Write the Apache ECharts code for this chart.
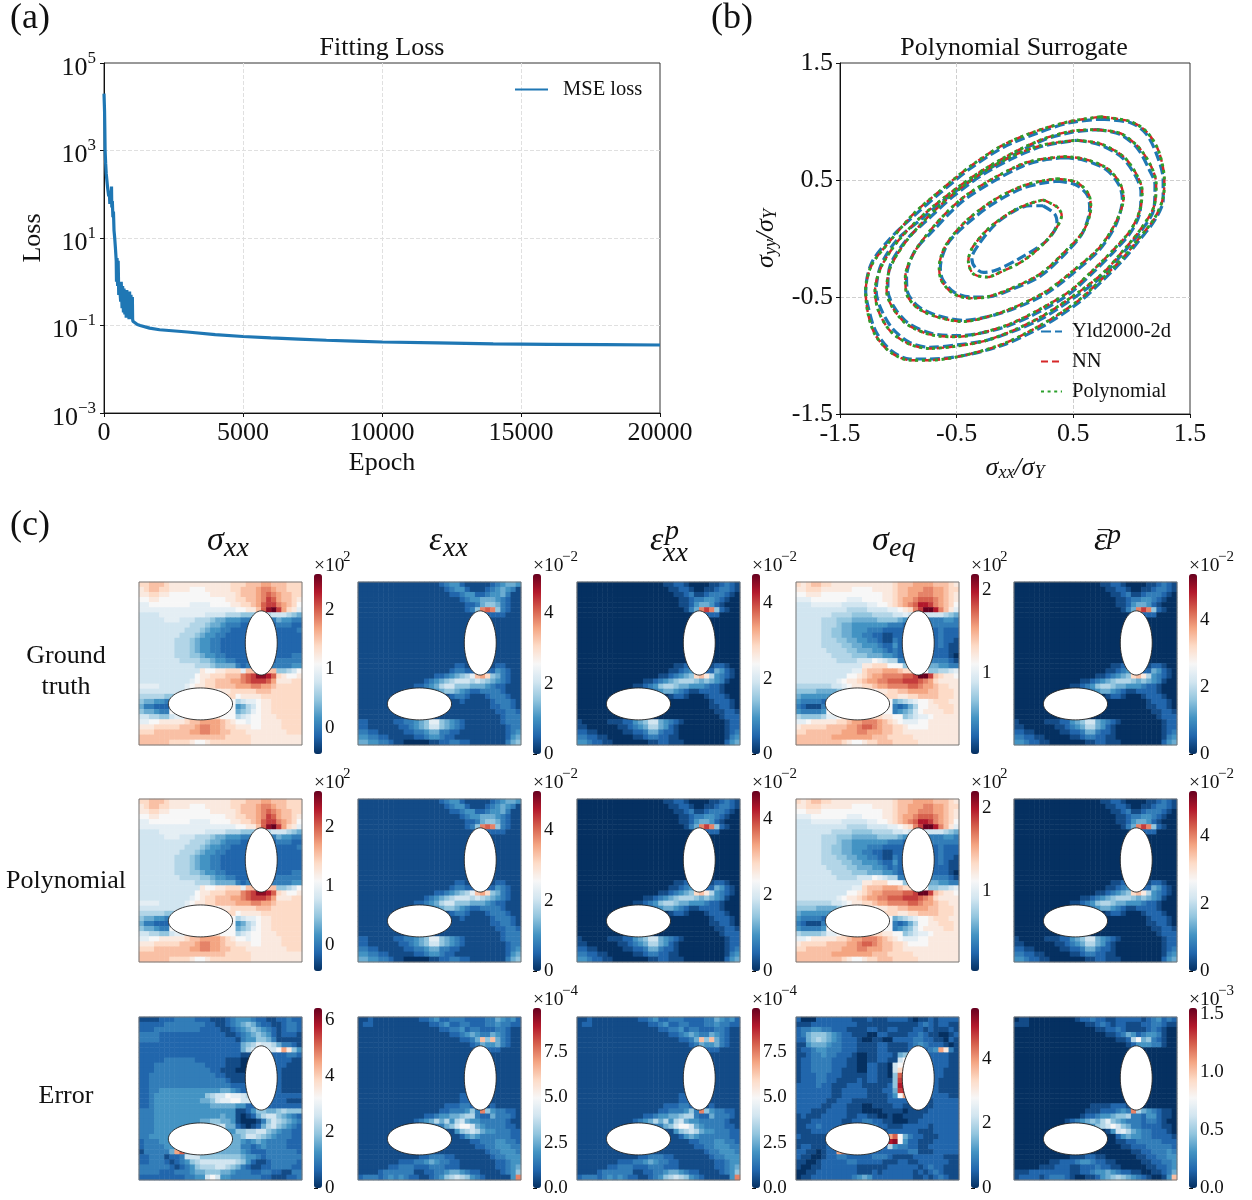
<!DOCTYPE html>
<html><head><meta charset="utf-8">
<script src="https://cdn.jsdelivr.net/npm/echarts@6/dist/echarts.min.js"></script>
<style>html,body{margin:0;padding:0;background:#fff}#c{width:1252px;height:1200px}</style>
</head><body><div id="c"></div>
<script>
// ---------- (a) Fitting loss ----------
const lossEpoch=[0,10,20,30,40,60,80,100,130,150,170,190,210,230,250,270,280,300,320,340,360,385,410,440,450,470,490,510,530,550,575,600,620,650,670,700,720,750,770,800,820,850,870,900,920,950,970,1000,1020,1030,1040,1100,1200,1300,1640,2000,3000,4000,5000,6000,7000,8000,9000,10000,12000,14000,16000,18000,20000];
const lossValue=[20000,20000,8000,3000,1000,500,300,220,140,130,90,120,60,100,60,150,50,70,30,40,15,10,6,3,1,3.5,0.8,3,0.5,1,1,0.35,1,0.25,0.8,0.2,0.7,0.18,0.45,0.15,0.65,0.18,0.5,0.14,0.6,0.15,0.5,0.14,0.45,0.14,0.125,0.115,0.105,0.1,0.087,0.08,0.071,0.062,0.056,0.052,0.049,0.046,0.044,0.042,0.04,0.038,0.0372,0.0365,0.0358];

// ---------- (b) Yield contours ----------
const surrogateC1=[[.24,.33],[.36,.27],[.40,.20],[.36,.10],[.24,-.05],[.07,-.19],[-.13,-.29],[-.24,-.33],[-.36,-.30],[-.40,-.19],[-.36,-.07],[-.21,.10],[-.01,.24],[.13,.30]];
const surrogateC2=[[.36,.51],[.53,.48],[.63,.38],[.65,.27],[.59,.07],[.44,-.10],[.22,-.30],[-.04,-.43],[-.24,-.50],[-.38,-.51],[-.53,-.47],[-.63,-.36],[-.65,-.25],[-.60,-.07],[-.44,.13],[-.21,.31],[.04,.44],[.22,.49]];
const surrogateC3=[[.42,.70],[.59,.68],[.79,.60],[.90,.47],[.93,.35],[.87,.15],[.73,-.07],[.53,-.25],[.27,-.45],[-.01,-.59],[-.24,-.67],[-.44,-.71],[-.67,-.67],[-.84,-.59],[-.93,-.47],[-.94,-.33],[-.87,-.13],[-.70,.10],[-.47,.33],[-.21,.50],[.07,.64],[.24,.68]];
const surrogateC4=[[.53,.84],[.73,.81],[.93,.70],[1.04,.55],[1.09,.41],[1.07,.24],[.99,.07],[.84,-.10],[.67,-.27],[.47,-.45],[.24,-.59],[-.04,-.73],[-.30,-.81],[-.50,-.84],[-.73,-.82],[-.93,-.73],[-1.05,-.59],[-1.10,-.45],[-1.07,-.25],[-.93,-.02],[-.75,.18],[-.53,.38],[-.27,.57],[-.01,.71],[.24,.80]];
const surrogateC5=[[.70,.93],[.90,.90],[1.06,.78],[1.17,.61],[1.21,.47],[1.19,.27],[1.07,.07],[.93,-.10],[.76,-.29],[.53,-.47],[.24,-.66],[.02,-.77],[-.24,-.87],[-.50,-.92],[-.73,-.94],[-.91,-.90],[-1.07,-.79],[-1.17,-.62],[-1.20,-.45],[-1.15,-.25],[-1.01,-.03],[-.81,.18],[-.58,.37],[-.33,.55],[-.04,.72],[.24,.85],[.50,.92]];
const surrogateC6=[[.73,1.04],[.99,1.00],[1.13,.91],[1.23,.75],[1.28,.50],[1.27,.35],[1.20,.18],[1.07,.01],[.93,-.16],[.73,-.36],[.53,-.54],[.24,-.73],[-.10,-.90],[-.44,-1.00],[-.73,-1.04],[-.90,-1.04],[-1.07,-.97],[-1.20,-.82],[-1.26,-.64],[-1.28,-.45],[-1.23,-.23],[-1.07,-.02],[-.87,.21],[-.64,.41],[-.38,.62],[-.10,.80],[.19,.92],[.47,1.00]];
const yldC1=[[.24,.28],[.34,.21],[.36,.13],[.27,-.02],[.04,-.17],[-.16,-.27],[-.27,-.29],[-.34,-.25],[-.37,-.17],[-.31,-.05],[-.16,.13],[.02,.25],[.13,.28]];
const yldC2=[[.36,.49],[.52,.46],[.62,.37],[.64,.26],[.58,.05],[.44,-.12],[.22,-.32],[-.04,-.44],[-.24,-.50],[-.38,-.50],[-.52,-.46],[-.62,-.35],[-.64,-.25],[-.58,-.05],[-.43,.11],[-.20,.29],[.04,.42],[.22,.47]];
const yldC3=[[.42,.69],[.59,.67],[.78,.59],[.89,.46],[.92,.34],[.87,.13],[.73,-.09],[.53,-.27],[.27,-.47],[-.01,-.60],[-.24,-.67],[-.44,-.70],[-.66,-.66],[-.83,-.58],[-.92,-.46],[-.93,-.33],[-.86,-.11],[-.69,.08],[-.46,.31],[-.20,.48],[.07,.62],[.24,.67]];
const yldC4=[[.53,.84],[.73,.80],[.92,.69],[1.03,.54],[1.08,.40],[1.07,.22],[.99,.05],[.84,-.12],[.67,-.29],[.47,-.47],[.24,-.61],[-.04,-.74],[-.30,-.81],[-.50,-.83],[-.72,-.81],[-.92,-.72],[-1.04,-.58],[-1.09,-.44],[-1.07,-.23],[-.93,-.01],[-.75,.16],[-.53,.36],[-.27,.55],[-.01,.69],[.24,.79]];
const yldC5=[[.70,.93],[.90,.89],[1.05,.77],[1.15,.59],[1.20,.46],[1.19,.25],[1.07,.05],[.93,-.12],[.76,-.31],[.53,-.49],[.24,-.68],[.02,-.78],[-.24,-.87],[-.50,-.91],[-.73,-.93],[-.90,-.89],[-1.05,-.77],[-1.15,-.60],[-1.19,-.45],[-1.15,-.23],[-1.01,-.01],[-.81,.16],[-.58,.35],[-.33,.53],[-.04,.70],[.24,.84],[.50,.91]];
const yldC6=[[.73,1.02],[.99,.99],[1.12,.90],[1.21,.73],[1.27,.50],[1.27,.33],[1.20,.16],[1.07,-.01],[.93,-.18],[.73,-.38],[.53,-.56],[.24,-.75],[-.10,-.91],[-.44,-1.00],[-.73,-1.03],[-.90,-1.03],[-1.06,-.96],[-1.19,-.80],[-1.25,-.62],[-1.28,-.45],[-1.23,-.21],[-1.07,0],[-.87,.19],[-.64,.39],[-.38,.60],[-.10,.78],[.19,.90],[.47,.99]];
const nnContours=[surrogateC1,surrogateC2,surrogateC3,surrogateC4,surrogateC5,surrogateC6];
const polyContours=[surrogateC1,surrogateC2,surrogateC3,surrogateC4,surrogateC5,surrogateC6];
const yldContours=[yldC1,yldC2,yldC3,yldC4,yldC5,yldC6];

// ---------- (c) Fields: one character per cell, base 36 level 0..20 along the colour scale ----------
const fieldSxx=[
"ccdddcbbbbbbbbbbbbcccdddeedddccc","bcddccbbbbaaabbbbbccdddeffeddccc","bbccbbaaaaaaaabbbbbcdddefgfeddcc","aabbaaaaaaaaaaaaabbccddefhgeddcb",
"99aaaaaaaa9999aaaabbccdeghhfedca","9999999999999999999aabbdgjkhecb9","88889999999998888777666777888765","88888999888777655444333333354433",
"88888888887776554333222222233322","88888888877765443322222222222223","88888888777654433222222222222222","88888887776544332222222222222222",
"88888887776544332222222222222222","88888887776544332222222222222222","88888887776654433222222222222233","88888888777766544332222222233333",
"88888888888777655553233333333344","888888888888baabbccc9ddeedd6678a","88888888888abbcccdddfghjjigcbaab","88888888889abccdddeefghhhgebbbcc",
"9999888889abbccddddeeeffeedccccc","888888888abaaaaabbcccccdddcccccc","7777766ccccccccccccabbbbcccccccc","655443aaaaaaaaaaaaa7899abbcccccc",
"533222aaaaaaaaaaaaa4578abbcccccc","655433aaaaaaaaaaaaa5679abbcccccc","887766899cccccccaaa789aabbbccccc","99aabbbbbcddeeeedcbaa9aabbbbcccc",
"bbbcccccdddeffeedccbbbaabbbbcccc","cccdddddddeeffeeddcccbbbbbbbbccc","dddddddddddddddddcccccbbbbbbbbbb","ddddddccccbaabccccccccbbbbbbbbbb"];
const fieldExx=[
"11111111111111112344211111234554","11111111111111111234421112345431","11111111111111111122344223445311","11111111111111111111234455543211",
"11111111111111111111122356653211","111111111111111111111236fgf63211","11111111111111111111111222222111","11111111111111111111111111111111",
"11111111111111111111111111111111","11111111111111111111111111111111","11111111111111111111111111111111","11111111111111111111111111111111",
"11111111111111111111111111111111","11111111111111111111111111111111","11111111111111111111111111111111","11111111111111111111111111111111",
"11111111111111111112211111122111","11111111111111111123322222243211","11111111111111122345679dec653211","11111111111112345678887876543211",
"11111111111223457886665554322111","11111111122222345665432233332111","11111111111111111123321112333211","11111111111111111111211111233321",
"11111111111111111111111111223321","11111111111111111111111111122332","11111111111111111111111111112333","22111112233456996543211111112333",
"22111111223456886543211111111233","33221111122334553322111111111234","44332211111223443221111111111245","55443321100000112233221111111356"];
const fieldExxP=[
"00000000000000000112210000112321","00000000000000000011221001123321","00000000000000000001123112333210","00000000000000000000112334432100",
"00000000000000000000112455421000","000000000000000000000135fhf62100","00000000000000000000000222220000","00000000000000000000000000000000",
"00000000000000000000000000000000","00000000000000000000000000000000","00000000000000000000000000000000","00000000000000000000000000000000",
"00000000000000000000000000000000","00000000000000000000000000000000","00000000000000000000000000000000","00000000000000000000000000000000",
"00000000000000000001122111122100","00000000000000000011234222254210","00000000000000001123456cdb743210","00000000000001123456777656543100",
"00000000000112346776554443221000","00000000001111234554321122221000","00000000000000000012210001222100","00000000000000000000000000122210",
"00000000000000000000000000112210","00000000000000000000000000011221","00000000000000000000000000001222","10000011122456885432100000000122",
"11000000112345775421000000000122","22110000011223553221000000000123","33221100000112332211000000000134","44322110000000112211100000000245"];
const fieldSeq=[
"cbcddccbbbbbbbbbbbbcdddeeeedddcb","bbcccbbbbbbaaaabbbbcddeeeffeedcc","aabbbaaaaaaaaaaaabbcddeefffeedcb","999aaaaaaa999aaaabbcdeefgggfedcb",
"8889999998888899aabcdefgiihfedca","88888888887777888899abcfhkkifdb9","88888887777666677778898888888765","88888777666555556666543333333443",
"88888777655444444433323333333333","88888776655444333222222222223222","88888776655443322112222222223222","88888777665544332113222222223221",
"88888777766554443224222222223211","88888877776655544323222222222211","88888887777666555443222222222210","888888887777888a9877333333333321",
"8888888888888bbcccaaa65555554433","8888888888899cdddeeedccaaa667789","8888888888aabcdeeffffgghkkhdcbba","888888889abbcdeeffggghhhgfecbbbb",
"7777777889abbccdeeffffggfeedccbb","6666555567aaaaaabbccddeeeeddcccb","54444444ccccccccccccbbccddddcccb","433332aaaaaaaaaaaaa56789aabcccbb",
"321113aaaaaaaaaaaaa32357aabbcccb","433334aaaaaaaaaaaaa34568abbbbccb","76666799accccccccbbaa67899abbbbb","99abbbbbccdeefffedcba999aabbbbbb",
"bcccccddddeefggfeddccbaaaabbbbbb","ccdddddddeeeffeeeddccbbbbbbbbbbb","dddddddeeeeeeeedddcccccbbbbbbbbb","dddddddddcbaabccdddcccccbbbbbbbb"];
const fieldErrS=[
"11112223333222111234443221122322","22222333333332211234565322112332","22233333333322221123456543212332","33332222222222222112345654212221",
"33332222222222222221344665311111","22222222222222222222567988753321","22222222222222222222578aa88aeb64","22222222222222222222111222222332",
"22222333333222222111002222222211","22233333333332222111000222222111","22233333333333221110002222221111","22333333333333322111122222221111",
"22333333333333333211112222221111","22333333333333333322222222221111","22334444444444445543222222221111","22344444444446788a99876222222222",
"223444444444556899aa886222222111","22344444444444555554422222222222","33344444444444444441124665567666","33344444444444445441012578865432",
"33344444444455665541000136876543","33344444445566778552101257865432","33344444444444444446677886543322","33444445555555555555688765433322",
"23334445555555555555434543333222","23333445555555555555332343333222","1333335eg55555555555432223333332","22333122388866666666544323333333",
"22333212346788888887642112333332","33333321234677788765321122333322","33332223334556665543332233221133","22222222233448a84433333322111223"];
const fieldErrE=[
"11211111111122342233322223354342","12211111111111223422332223343322","11111111111111112233423322233211","11111111111111111122345433543211",
"11111111111111111111223 5d6d53211".replace(" ",""),"11111111111111111111112354453211","11111111111111111111111122221111","11111111111111111111111111111111",
"11111111111111111111111111111111","11111111111111111111111111111111","11111111111111111111111111111111","11111111111111111111111111111111",
"11111111111111111111111111111111","11111111111111111111111111111111","11111111111111111111111111111111","11111111111111111111222111111111",
"11111111111111111111222211111111","11111111111111111222332211211111","111111111111111122333463f6433221","11111111111112234455677322533321",
"11111111111234575747854433333211","11111111111111233568aa8543333221","11111111111111111114678754433322","11111111111111111111245433333322",
"11111111111111111111112233344332","11111111111111111111111223344433","11111111111111111111111112334443","11111111111122333221111111233444",
"11111111222334543322111111122344","11111122333222333222111111122345","11112333333112233455432211112346","2333234343221123467876432111114f"];
const fieldErrQ=[
"20002222222111211122221011212222","11122222222211111111111123212211","23344332221111221122111221211121","23566654322111002211112232110012",
"22567654322210011002222332211021","11455543322211112211112343222101","1223443332221111221111222234eb31","11233433222100112221566222222211",
"122333322211001122118a9222222211","12233332221100221108ab9222222211","12233332211100221108cea222222111","12223322211111221106gi9222222111",
"12223322111121221116hj8122221111","22223221112221111126ij8122221111","22222221122222111225hi6111221111","22222221122222111124ae2111222211",
"22222211222111111122222111122222","22222112221110011112211001122222","22211122221110000111101111222222","12111222221122110010011112222222",
"11122222211223322110001122222222","11223222222233332211122222122222","11122222232233321122222211122222","211111222222222222ega53221112222",
"111111222222222222ija42211122222","12211122222222222274332211222222","22110122eg2222222222223311122222","21100122332222233321111222222111",
"11001222223322222111221122222211","10011222222211111122222212322111","00112222222211121222222121232111","01122222222345422222222112123211"];
const fieldErrEp=[
"01100000000012232211222221234232","11100000000000112321221112233211","00000000000000001122321111232100","00000000000000000011235423443100",
"000000000000000000001127a5632100","00000000000000000000001244433100","00000000000000000000000000000000","00000000000000000000000000000000",
"00000000000000000000000000000000","00000000000000000000000000000000","00000000000000000000000000000000","00000000000000000000000000000000",
"00000000000000000000000000000000","00000000000000000000000000000000","00000000000000000000000000000000","00000000000000000000000000000000",
"00000000000000000000000000000000","00000000000000011112221100000000","00000000000000111222343f75432110","00000000000001223445667332442110",
"00000000001234565796543332332100","0000000000011234678a865332222110","00000000000000000014897543322210","00000000000000000000245443322221",
"00000000000000000000112233333222","00000000000000000000011222333332","00000000000000000000000112233343","00000000000111221100000011223344",
"00000001122234432211000001122334","00000111222112223221100000112234","11122222222112234454322110011235","1222212333210011245676543210014d"];

const panelFields=[
 [fieldSxx,fieldExx,fieldExxP,fieldSeq,fieldExxP],
 [fieldSxx,fieldExx,fieldExxP,fieldSeq,fieldExxP],
 [fieldErrS,fieldErrE,fieldErrE,fieldErrQ,fieldErrEp]];
const panelMin=[[-0.44,0,0,0.02,0],[-0.44,0,0,0.04,0],[0,0,0,0,0]];
const panelMax=[[2.62,5.12,4.77,2.19,5.37],[2.61,5.11,4.74,2.2,5.34],[6.42,9.9,9.9,5.58,1.55]];
const panelTicks=[
 [[0,1,2],[0,2,4],[0,2,4],[1,2],[0,2,4]],
 [[0,1,2],[0,2,4],[0,2,4],[1,2],[0,2,4]],
 [[0,2,4,6],[0,2.5,5,7.5],[0,2.5,5,7.5],[0,2,4],[0,0.5,1,1.5]]];
const panelExponent=[["2","−2","−2","2","−2"],["2","−2","−2","2","−2"],["","−4","−4","","−3"]];
const holes=[[0.75,0.626,0.098,0.197],[0.377,0.252,0.197,0.098]];
const rowLabels=["Ground\ntruth","Polynomial","Error"];
const rdBu=['#053061','#2166ac','#4393c3','#92c5de','#d1e5f0','#f7f7f7','#fddbc7','#f4a582','#d6604d','#b2182b','#67001f'];

// ---------- layout ----------
const serif='"Liberation Serif"';
const panelX=[139,358,577,796,1014], panelY=[582,799,1017], panelSize=163;
const barX=[314,533,752,971,1189], barY=[574,791,1008], barW=8, barH=180;
const ink='#111';
const grid=[],xAxis=[],yAxis=[],series=[],visualMap=[],elements=[];
function txt(text,x,y,size,o){o=o||{};elements.push({type:'text',silent:true,z:50,rotation:o.rot||0,x:x,y:y,style:{text:text,x:0,y:0,fill:ink,font:(o.italic?'italic ':'')+size+'px '+(o.font||serif),align:o.align||'left',verticalAlign:'middle',lineHeight:o.lh}});}

// (a)
grid.push({left:104,top:63,width:556,height:350,show:true,borderColor:'#333',borderWidth:1});
xAxis.push({gridIndex:0,type:'value',min:0,max:20000,interval:5000,name:'Epoch',nameLocation:'middle',nameGap:37,nameTextStyle:{fontFamily:serif,fontSize:26,color:ink},
 axisLine:{lineStyle:{color:ink}},axisTick:{length:4,lineStyle:{color:ink}},axisLabel:{fontFamily:serif,fontSize:26,color:ink,margin:7,formatter:v=>String(v)},
 splitLine:{show:true,showMinLine:false,showMaxLine:false,lineStyle:{type:'dashed',color:'#e0e0e0'}}});
yAxis.push({gridIndex:0,type:'log',logBase:10,min:1e-3,max:1e5,interval:2,name:'Loss',nameLocation:'middle',nameGap:58,nameTextStyle:{fontFamily:serif,fontSize:26,color:ink},
 axisLine:{show:true,lineStyle:{color:ink}},axisTick:{show:true,length:4,lineStyle:{color:ink}},minorTick:{show:false},
 axisLabel:{margin:8,formatter:v=>{const e=Math.round(Math.log10(v));return '{b|10}{s|'+(e<0?'−'+(-e):e)+'}';},rich:{b:{fontFamily:serif,fontSize:26,color:ink,verticalAlign:'bottom'},s:{fontFamily:serif,fontSize:17,color:ink,verticalAlign:'bottom',padding:[5,0,14,0]}}},
 splitLine:{show:true,showMinLine:false,showMaxLine:false,lineStyle:{type:'dashed',color:'#e0e0e0'}}});
series.push({name:'MSE loss',type:'line',xAxisIndex:0,yAxisIndex:0,symbol:'none',data:lossEpoch.map((e,i)=>[e,lossValue[i]]),lineStyle:{color:'#1f77b4',width:3.2},itemStyle:{color:'#1f77b4'},silent:true});

// (b)
grid.push({left:840,top:63,width:350,height:351,show:true,borderColor:'#333',borderWidth:1});
const surfaceAxis=(idx,extra,labelPad)=>Object.assign({gridIndex:idx,type:'value',min:-1.5,max:1.5,interval:1,nameLocation:'middle',
 nameTextStyle:{rich:{i:{fontFamily:serif,fontStyle:'italic',fontSize:26,color:ink},s:{fontFamily:serif,fontStyle:'italic',fontSize:18,color:ink,verticalAlign:'bottom',padding:[10,0,0,0]}}},
 axisLine:{show:true,onZero:false,lineStyle:{color:ink}},axisTick:{show:true,length:4,lineStyle:{color:ink}},axisLabel:{fontFamily:serif,fontSize:26,color:ink,margin:7,padding:labelPad,formatter:v=>String(v)},
 splitLine:{show:true,showMinLine:false,showMaxLine:false,lineStyle:{type:'dashed',color:'#cfcfcf'}}},extra);
xAxis.push(surfaceAxis(1,{name:'{i|σ}{s|xx}{i|/σ}{s|Y}',nameGap:40},[0,0,0,0]));
yAxis.push(surfaceAxis(1,{name:'{i|σ}{s|yy}{i|/σ}{s|Y}',nameGap:60},[4,0,0,0]));
const addContours=(name,list,color,width,dash)=>list.forEach(pts=>series.push({name:name,type:'line',xAxisIndex:1,yAxisIndex:1,symbol:'none',smooth:0.3,silent:true,
  data:pts.concat([pts[0]]),lineStyle:{color:color,width:width,type:dash},itemStyle:{color:color}}));
addContours('Yld2000-2d',yldContours,'#1f77b4',3.2,[10,4]);
addContours('NN',nnContours,'#d62728',2.4,[7,4]);
addContours('Polynomial',polyContours,'#2ca02c',3,[3,3.6]);

// (c)
const n=32, idx=[...Array(n).keys()].map(String);
panelFields.forEach((rowF,r)=>rowF.forEach((rows,c)=>{
  const min=panelMin[r][c],max=panelMax[r][c];
  const g=grid.length;
  grid.push({left:panelX[c],top:panelY[r],width:panelSize,height:panelSize,show:true,borderColor:'#777',borderWidth:1,z:5});
  const xi=xAxis.length,yi=yAxis.length;
  xAxis.push({gridIndex:g,type:'category',data:idx,show:false});
  yAxis.push({gridIndex:g,type:'category',data:idx,show:false});
  xAxis.push({gridIndex:g,type:'value',min:0,max:1,show:false,position:'top'});
  yAxis.push({gridIndex:g,type:'value',min:0,max:1,show:false,position:'right'});
  const cells=[];
  rows.forEach((s,ry)=>{for(let cx=0;cx<n;cx++){const ch=s[cx]||s[s.length-1];cells.push([cx,n-1-ry,min+parseInt(ch,36)/20*(max-min)]);}});
  const si=series.length;
  series.push({type:'heatmap',xAxisIndex:xi,yAxisIndex:yi,data:cells,silent:true,progressive:0,itemStyle:{borderWidth:0},emphasis:{disabled:true}});
  series.push({type:'custom',xAxisIndex:xi+1,yAxisIndex:yi+1,silent:true,clip:false,z:4,data:holes,encode:{x:0,y:1},
    renderItem:(p,api)=>{const o=api.coord([api.value(0),api.value(1)]),s=api.size([api.value(2),api.value(3)]);
      return {type:'ellipse',shape:{cx:o[0],cy:o[1],rx:s[0],ry:s[1]},style:{fill:'#fff',stroke:'#222',lineWidth:0.9}};}});
  visualMap.push({type:'continuous',seriesIndex:si,dimension:2,min:min,max:max,show:true,calculable:false,realtime:false,hoverLink:false,left:barX[c],top:barY[r],itemWidth:barW,itemHeight:barH,padding:0,text:null,showLabel:false,inRange:{color:rdBu},textStyle:{fontSize:0}});
  const gb=grid.length;
  grid.push({left:barX[c],top:barY[r],width:barW,height:barH});
  const dec=(r===2&&(c===1||c===2||c===4))?1:0;
  xAxis.push({gridIndex:gb,type:'value',show:false,min:0,max:1});
  yAxis.push({gridIndex:gb,type:'value',min:min,max:max,position:'right',splitLine:{show:false},axisLine:{show:false},
    axisTick:{show:true,length:4,lineStyle:{color:ink},customValues:panelTicks[r][c]},
    axisLabel:{show:true,customValues:panelTicks[r][c],fontFamily:serif,fontSize:19,color:ink,margin:3,formatter:v=>v.toFixed(dec)}});
  if(panelExponent[r][c]){
    txt('×10',barX[c],barY[r]-8,19.5);
    txt(panelExponent[r][c],barX[c]+29,barY[r]-17,15);
  }
}));

// text
txt('(a)',10,19,36); txt('(b)',711,19,36); txt('(c)',10,526,36);
txt('Fitting Loss',382,48,26,{align:'center'}); txt('Polynomial Surrogate',1014,48,26,{align:'center'});
rowLabels.forEach((t,i)=>txt(t,66,[672,881,1096][i],26,{align:'center',lh:31}));
txt('σ',207,541,34,{italic:true}); txt('xx',224,549,28,{italic:true});
txt('ε',429,541,34,{italic:true}); txt('xx',443,549,28,{italic:true});
txt('ε',650,541,34,{italic:true}); txt('p',665,532,28,{italic:true}); txt('xx',663,554,28,{italic:true});
txt('σ',872,541,34,{italic:true}); txt('eq',889,549,28,{italic:true});
txt('ε',1094,541,34,{italic:true}); txt('¯',1098,541,24); txt('p',1107,536,28,{italic:true});

const option={animation:false,backgroundColor:'#fff',textStyle:{fontFamily:serif},
 grid,xAxis,yAxis,series,visualMap,
 legend:[
  {data:['MSE loss'],left:514,top:79,itemWidth:33,itemHeight:14,itemGap:10,padding:0,selectedMode:false,itemStyle:{opacity:0},textStyle:{fontFamily:serif,fontSize:20.5,color:ink,padding:[0,0,0,10]}},
  {data:['Yld2000-2d','NN','Polynomial'],orient:'vertical',left:1040,top:321,itemWidth:21,itemHeight:14,itemGap:9,padding:0,selectedMode:false,itemStyle:{opacity:0},textStyle:{fontFamily:serif,fontSize:20.5,color:ink,padding:[0,0,0,5]}}],
 graphic:{elements}};
const chart=echarts.init(document.getElementById('c'),null,{renderer:'canvas'});
chart.setOption(option);
</script></body></html>
